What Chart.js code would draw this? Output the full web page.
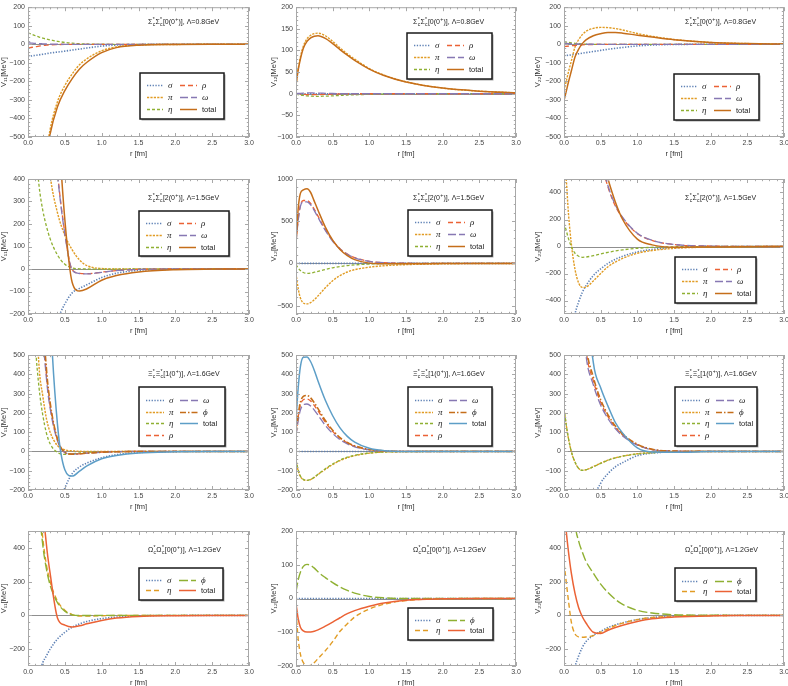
<!DOCTYPE html>
<html>
<head>
<meta charset="utf-8">
<script src="https://cdn.jsdelivr.net/npm/chart.js@4.4.1/dist/chart.umd.min.js"></script>
<style>
  html, body { margin: 0; padding: 0; background: #fff; }
  #wrap { position: relative; width: 788px; height: 686px; overflow: hidden; }
  #wrap canvas { position: absolute; }
</style>
</head>
<body>
<div id="wrap"></div>
<script>
// r grid shared by every curve (fm)
const rGrid = [0, 0.03, 0.06, 0.1, 0.15, 0.2, 0.25, 0.3, 0.4, 0.5, 0.6, 0.7, 0.8, 1.0, 1.2, 1.5, 2.0, 2.5, 3.0];
const xTicks = [0, 0.5, 1.0, 1.5, 2.0, 2.5, 3.0];

// y tick labels per panel
const yTicksA = [-500, -400, -300, -200, -100, 0, 100, 200];
const yTicksB = [-100, -50, 0, 50, 100, 150, 200];
const yTicksC = [-200, -100, 0, 100, 200, 300, 400];
const yTicksD = [-500, 0, 500, 1000];
const yTicksE = [-400, -200, 0, 200, 400];
const yTicksF = [-200, -100, 0, 100, 200, 300, 400, 500];
const yTicksG = [-200, 0, 200, 400];
const yTicksH = [-200, -100, 0, 100, 200];

// panel 1: V11, Sigma, L=0.8
const p1Sigma = [-65, -64, -62, -60, -57, -54, -51, -47, -42, -37, -31, -26, -20, -10, -4, -1, 0, 0, 0];
const p1Pi = [-2400, -2250, -2050, -1700, -1250, -800, -590, -460, -310, -222, -160, -110, -78, -35, -14, -4, -1, 0, 0];
const p1Eta = [62, 57, 52, 46, 39, 33, 28, 24, 16, 10, 6, 3, 1.5, 0.3, 0, 0, 0, 0, 0];
const p1Rho = [-20, -18, -16, -13, -10, -7, -5, -3, -1.5, -0.5, 0, 0, 0, 0, 0, 0, 0, 0, 0];
const p1Omega = [8, 7, 6, 5, 3.5, 2.5, 1.5, 1, 0.3, 0, 0, 0, 0, 0, 0, 0, 0, 0, 0];
const p1Total = [-2415, -2268, -2070, -1722, -1275, -826, -617, -485, -337, -250, -185, -133, -97, -45, -18, -5, -1, 0, 0];

// panel 2: V12
const p2Sigma = [0, 0, 0, 0, 0, 0, 0, 0, 0, 0, 0, 0, 0, 0, 0, 0, 0, 0, 0];
const p2Pi = [21, 58, 85, 110, 127, 135, 139, 140, 134, 121, 106, 92, 80, 58, 43, 27.5, 13, 6, 2];
const p2Eta = [-1, -2, -3, -4, -5, -5.5, -6, -6, -5.5, -5, -4, -3, -2.5, -1.5, -1, -0.3, 0, 0, 0];
const p2Rho = [0, -0.5, -1, -1.5, -2, -2, -2, -2, -1.5, -1, -0.5, 0, 0, 0, 0, 0, 0, 0, 0];
const p2Omega = [0, 0.5, 1, 1.5, 2, 2, 1.5, 1.5, 1, 0.5, 0.3, 0, 0, 0, 0, 0, 0, 0, 0];
const p2Total = [20, 55, 80, 105, 121, 129, 133, 134, 128, 116, 102, 89, 77, 57, 42, 27, 13, 6, 2];

// panel 3: V22
const p3Sigma = [-61, -60, -59, -57, -54, -51, -48, -45, -39, -33, -27, -22, -17, -9, -4, -1, 0, 0, 0];
const p3Pi = [-250, -200, -150, -90, -15, 25, 52, 70, 86, 91, 90, 85, 77, 58, 43, 26, 10, 4, 1];
const p3Eta = [14, 12, 10, 8, 5, 3, 1.5, 0.5, -0.5, -0.5, -0.3, -0.2, 0, 0, 0, 0, 0, 0, 0];
const p3Rho = [-12, -11, -10, -8, -6, -4.5, -3, -2, -1, -0.3, 0, 0, 0, 0, 0, 0, 0, 0, 0];
const p3Omega = [5, 4.5, 4, 3, 2, 1.5, 1, 0.5, 0.2, 0, 0, 0, 0, 0, 0, 0, 0, 0, 0];
const p3Total = [-304, -255, -205, -144, -68, -26, 3.5, 24, 46, 57, 63, 63, 60, 49, 39, 25, 10, 4, 1];

// panel 4: V11, L=1.5
const p4Sigma = [-1400, -1300, -1150, -950, -720, -540, -400, -310, -225, -155, -106, -86, -70, -38, -19, -6, -1, 0, 0];
const p4Pi = [3000, 2600, 2200, 1700, 1200, 850, 600, 420, 250, 150, 85, 40, 15, 2, 0, 0, 0, 0, 0];
const p4Eta = [1200, 1000, 800, 560, 370, 262, 190, 135, 62, 21, 5, 1, 0, -1, -0.5, 0, 0, 0, 0];
const p4Rho = [8200, 7100, 6100, 4600, 3050, 1950, 1230, 820, 430, 160, -4, -19, -21, -14, -7, -2, 0, 0, 0];
const p4Omega = [8000, 7000, 6000, 4500, 3000, 1900, 1200, 800, 420, 155, -5, -20, -22, -15, -7, -2, 0, 0, 0];
const p4Total = [14000, 12000, 10000, 7000, 4500, 3000, 2000, 1300, 700, 220, -60, -98, -88, -50, -29, -13, -3, -0.5, 0];

// panel 5: V12
const p5Sigma = [0, 0, 0, 0, 0, 0, 0, 0, 0, 0, 0, 0, 0, 0, 0, 0, 0, 0, 0];
const p5Pi = [-120, -300, -410, -470, -480, -465, -430, -385, -290, -205, -145, -102, -75, -45, -28, -15, -6, -2, -1];
const p5Eta = [-15, -55, -85, -108, -118, -115, -105, -95, -72, -52, -37, -26, -18, -8, -3, -1, 0, 0, 0];
const p5Rho = [250, 520, 690, 745, 745, 710, 640, 560, 400, 270, 175, 110, 68, 25, 8, 2, 0, 0, 0];
const p5Omega = [245, 510, 675, 728, 730, 695, 625, 545, 390, 262, 170, 107, 66, 24, 8, 2, 0, 0, 0];
const p5Total = [240, 650, 830, 870, 885, 840, 735, 630, 430, 275, 165, 92, 45, 3, -5, -5, -2, -1, 0];

// panel 6: V22
const p6Sigma = [-1000, -900, -800, -660, -500, -410, -340, -290, -215, -165, -125, -95, -72, -40, -22, -9, -2, 0, 0];
const p6Pi = [650, 500, 250, 20, -170, -270, -303, -300, -255, -200, -150, -115, -88, -50, -30, -14, -4, -1, 0];
const p6Eta = [175, 120, 60, 0, -50, -72, -80, -78, -68, -55, -43, -33, -25, -13, -6, -2, 0, 0, 0];
const p6Rho = [30000, 20000, 15000, 10000, 6000, 4000, 2600, 1800, 1000, 650, 440, 300, 210, 95, 45, 14, 3, 0.5, 0];
const p6Omega = [31000, 21000, 15500, 10300, 6200, 4100, 2680, 1850, 1030, 665, 450, 308, 215, 98, 46, 15, 3, 0.5, 0];
const p6Total = [35000, 24000, 17000, 11000, 6600, 4400, 2900, 2000, 1100, 700, 500, 330, 200, 55, 12, -6, -3, -1, 0];

// panel 7: V11, Xi, L=1.6
const p7Sigma = [-3000, -2700, -2400, -1900, -1400, -1000, -720, -500, -300, -190, -115, -80, -60, -33, -17, -6, -1, 0, 0];
const p7Pi = [2500, 1900, 1400, 850, 440, 290, 170, 100, 30, 8, 3, 1, 0, 0, 0, 0, 0, 0, 0];
const p7Eta = [1600, 1200, 900, 560, 330, 190, 95, 40, -5, -15, -12, -8, -5, -2, -1, 0, 0, 0, 0];
const p7Rho = [9000, 7000, 5000, 2800, 1500, 700, 400, 240, 60, -5, -14, -12, -9, -4, -1.5, 0, 0, 0, 0];
const p7Omega = [8500, 6600, 4700, 2600, 1400, 660, 380, 225, 55, -6, -14, -12, -9, -4, -1.5, 0, 0, 0, 0];
const p7Phi = [9500, 7400, 5300, 3000, 1600, 760, 430, 255, 65, -4, -14, -12, -9, -4, -1.5, 0, 0, 0, 0];
const p7Total = [20000, 15000, 11000, 7000, 4000, 2400, 1400, 750, 140, -95, -128, -102, -75, -38, -21, -8, -2, 0, 0];

// panel 8: V12
const p8Sigma = [0, 0, 0, 0, 0, 0, 0, 0, 0, 0, 0, 0, 0, 0, 0, 0, 0, 0, 0];
const p8Pi = [-50, -100, -130, -146, -150, -146, -135, -120, -93, -68, -48, -33, -22, -9, -3, -1, 0, 0, 0];
const p8Eta = [-45, -95, -128, -145, -150, -145, -133, -118, -90, -65, -45, -30, -20, -8, -3, -1, 0, 0, 0];
const p8Rho = [90, 180, 240, 268, 272, 262, 238, 210, 152, 104, 68, 44, 27, 9, 3, 0, 0, 0, 0];
const p8Omega = [80, 160, 215, 242, 246, 236, 214, 188, 135, 93, 61, 39, 24, 8, 2, 0, 0, 0, 0];
const p8Phi = [95, 190, 255, 285, 290, 278, 252, 222, 160, 110, 72, 46, 29, 10, 3, 0, 0, 0, 0];
const p8Total = [165, 330, 440, 488, 490, 465, 420, 365, 265, 185, 122, 78, 48, 16, 4, 0, 0, 0, 0];

// panel 9: V22
const p9Sigma = [-3000, -2700, -2300, -1800, -1300, -950, -680, -500, -260, -165, -115, -80, -58, -22, -9, -2, 0, 0, 0];
const p9Pi = [220, 138, 68, -2, -56, -88, -98, -95, -79, -61, -45, -33, -24, -12, -6, -2, 0, 0, 0];
const p9Eta = [225, 140, 70, 0, -55, -88, -98, -95, -80, -62, -46, -34, -25, -13, -7, -2, 0, 0, 0];
const p9Rho = [10000, 7000, 5000, 3000, 1800, 1150, 780, 530, 365, 255, 180, 125, 85, 35, 10, 2, 0, 0, 0];
const p9Omega = [9500, 6600, 4700, 2850, 1700, 1090, 740, 500, 345, 240, 170, 118, 80, 33, 9, 2, 0, 0, 0];
const p9Phi = [10500, 7400, 5300, 3150, 1900, 1210, 820, 560, 385, 268, 190, 132, 90, 37, 11, 2, 0, 0, 0];
const p9Total = [30000, 20000, 14000, 8000, 4500, 2700, 1600, 900, 460, 330, 235, 150, 95, 18, -3, -4, -1, 0, 0];

// panel 10: V11, Omega, L=1.2
const p10Sigma = [-650, -610, -560, -470, -350, -280, -240, -200, -140, -100, -70, -50, -36, -19, -10, -3, -0.5, 0, 0];
const p10Eta = [3000, 2400, 1800, 1200, 720, 460, 300, 200, 85, 30, 5, -4, -4, -2, -1, 0, 0, 0, 0];
const p10Phi = [2800, 2200, 1650, 1100, 660, 420, 275, 180, 75, 25, 3, -1, -1, 0, 0, 0, 0, 0, 0];
const p10Total = [6000, 4800, 3600, 2400, 1400, 700, 420, 250, -15, -58, -69, -62, -50, -30, -16, -6, -1.5, 0, 0];

// panel 11: V12
const p11Sigma = [0, 0, 0, 0, 0, 0, 0, 0, 0, 0, 0, 0, 0, 0, 0, 0, 0, 0, 0];
const p11Eta = [-40, -120, -165, -190, -199, -198, -190, -178, -155, -128, -97, -75, -55, -31, -17, -6, -1, 0, 0];
const p11Phi = [20, 55, 78, 95, 101, 98, 90, 79, 62, 47, 34, 24, 16, 6, 2, 0, 0, 0, 0];
const p11Total = [-15, -60, -85, -96, -99, -99, -97, -93, -82, -70, -57, -45, -36, -23, -13, -5, -1, 0, 0];

// panel 12: V22
const p12Sigma = [-600, -560, -500, -420, -305, -240, -190, -155, -118, -95, -72, -56, -44, -25, -13, -4, -0.5, 0, 0];
const p12Eta = [310, 200, 90, -40, -110, -128, -130, -128, -120, -100, -80, -60, -46, -25, -13, -4, -1, 0, 0];
const p12Phi = [2500, 2000, 1500, 1000, 560, 440, 375, 320, 250, 185, 135, 95, 65, 30, 14, 4, 1, 0, 0];
const p12Total = [640, 500, 380, 250, 130, 45, -8, -45, -100, -108, -88, -72, -58, -36, -20, -10, -3, -1, 0];

const FONT = "'Liberation Sans', Arial, sans-serif";

const C = {
  blue: 'rgb(94,129,181)',
  orange: 'rgb(225,156,36)',
  green: 'rgb(143,176,50)',
  red: 'rgb(235,98,53)',
  purple: 'rgb(135,120,179)',
  brown: 'rgb(197,110,26)',
  sky: 'rgb(93,158,199)'
};

const ST = {
  sigma: { label: 'σ', color: C.blue, dash: [1.3, 1.5], w: 1.6 },
  pi: { label: 'π', color: C.orange, dash: [2.2, 1.2], w: 1.4 },
  eta: { label: 'η', color: C.green, dash: [3, 2], w: 1.3 },
  rho: { label: 'ρ', color: C.red, dash: [5, 3], w: 1.3 },
  omega: { label: 'ω', color: C.purple, dash: [8, 3], w: 1.3 },
  phi: { label: 'ϕ', color: C.brown, dash: [6, 2, 1.5, 2], w: 1.6 },
  totalA: { label: 'total', color: C.brown, dash: [], w: 1.5 },
  totalB: { label: 'total', color: C.sky, dash: [], w: 1.5 },
  eta4: { label: 'η', color: C.orange, dash: [5, 3], w: 1.4 },
  phi4: { label: 'ϕ', color: C.green, dash: [9, 3], w: 1.4 },
  totalC: { label: 'total', color: C.red, dash: [], w: 1.5 }
};

// plot frame positions (page pixels)
const colX = [0, 263, 526];
const plotL = [28, 296, 564];
const plotR = [249, 516, 784];
const rowY = [0, 170, 340, 510];
const plotT = [3, 179, 355, 531];
const plotB = [137, 314, 490, 666];
const yTitlePad = [0, 7.5, 8.5];

const title = (sym, iso, lam) => [sym, { sup: '*', sub: 'c' }, sym, { sup: '*', sub: 'c' }, '[' + iso + '(0', { sup: '+' }, ')], Λ=' + lam + 'GeV'];

const panels = [
  { y: [-500, 200], ticks: yTicksA, v: 'V₁₁[MeV]', note: title('Σ', '0', '0.8'), lg: [140, 73, 84, 46],
    series: [[ST.sigma, p1Sigma], [ST.pi, p1Pi], [ST.eta, p1Eta], [ST.rho, p1Rho], [ST.omega, p1Omega], [ST.totalA, p1Total]] },
  { y: [-100, 200], ticks: yTicksB, v: 'V₁₂[MeV]', note: title('Σ', '0', '0.8'), lg: [407, 33, 85, 46],
    series: [[ST.sigma, p2Sigma], [ST.pi, p2Pi], [ST.eta, p2Eta], [ST.rho, p2Rho], [ST.omega, p2Omega], [ST.totalA, p2Total]] },
  { y: [-500, 200], ticks: yTicksA, v: 'V₂₂[MeV]', note: title('Σ', '0', '0.8'), lg: [674, 74, 85, 46],
    series: [[ST.sigma, p3Sigma], [ST.pi, p3Pi], [ST.eta, p3Eta], [ST.rho, p3Rho], [ST.omega, p3Omega], [ST.totalA, p3Total]] },
  { y: [-200, 400], ticks: yTicksC, v: 'V₁₁[MeV]', note: title('Σ', '2', '1.5'), lg: [139, 211, 90, 45],
    series: [[ST.sigma, p4Sigma], [ST.pi, p4Pi], [ST.eta, p4Eta], [ST.rho, p4Rho], [ST.omega, p4Omega], [ST.totalA, p4Total]] },
  { y: [-600, 1000], ticks: yTicksD, v: 'V₁₂[MeV]', note: title('Σ', '2', '1.5'), lg: [408, 210, 84, 46],
    series: [[ST.sigma, p5Sigma], [ST.pi, p5Pi], [ST.eta, p5Eta], [ST.rho, p5Rho], [ST.omega, p5Omega], [ST.totalA, p5Total]] },
  { y: [-500, 500], ticks: yTicksE, v: 'V₂₂[MeV]', note: title('Σ', '2', '1.5'), lg: [675, 257, 81, 46],
    series: [[ST.sigma, p6Sigma], [ST.pi, p6Pi], [ST.eta, p6Eta], [ST.rho, p6Rho], [ST.omega, p6Omega], [ST.totalA, p6Total]] },
  { y: [-200, 500], ticks: yTicksF, v: 'V₁₁[MeV]', note: title('Ξ', '1', '1.6'), lg: [139, 387, 86, 59],
    series: [[ST.sigma, p7Sigma], [ST.pi, p7Pi], [ST.eta, p7Eta], [ST.rho, p7Rho], [ST.omega, p7Omega], [ST.phi, p7Phi], [ST.totalB, p7Total]] },
  { y: [-200, 500], ticks: yTicksF, v: 'V₁₂[MeV]', note: title('Ξ', '1', '1.6'), lg: [408, 387, 84, 59],
    series: [[ST.sigma, p8Sigma], [ST.pi, p8Pi], [ST.eta, p8Eta], [ST.rho, p8Rho], [ST.omega, p8Omega], [ST.phi, p8Phi], [ST.totalB, p8Total]] },
  { y: [-200, 500], ticks: yTicksF, v: 'V₂₂[MeV]', note: title('Ξ', '1', '1.6'), lg: [675, 387, 82, 59],
    series: [[ST.sigma, p9Sigma], [ST.pi, p9Pi], [ST.eta, p9Eta], [ST.rho, p9Rho], [ST.omega, p9Omega], [ST.phi, p9Phi], [ST.totalB, p9Total]] },
  { y: [-300, 500], ticks: yTicksG, v: 'V₁₁[MeV]', note: title('Ω', '0', '1.2'), lg: [139, 568, 84, 32],
    series: [[ST.sigma, p10Sigma], [ST.eta4, p10Eta], [ST.phi4, p10Phi], [ST.totalC, p10Total]] },
  { y: [-200, 200], ticks: yTicksH, v: 'V₁₂[MeV]', note: title('Ω', '0', '1.2'), lg: [408, 608, 85, 32],
    series: [[ST.sigma, p11Sigma], [ST.eta4, p11Eta], [ST.phi4, p11Phi], [ST.totalC, p11Total]] },
  { y: [-300, 500], ticks: yTicksG, v: 'V₂₂[MeV]', note: title('Ω', '0', '1.2'), lg: [675, 568, 81, 33],
    series: [[ST.sigma, p12Sigma], [ST.eta4, p12Eta], [ST.phi4, p12Phi], [ST.totalC, p12Total]] }
];

// minor tick values between (and beyond) the major ticks
function minorTicks(scale) {
  const major = scale.ticks.map(t => t.value);
  const step = (major[1] - major[0]) / 5;
  const out = [];
  for (let v = major[0] - step; v >= scale.min - 1e-9; v -= step) out.push(v);
  major.forEach((m, i) => {
    const next = i < major.length - 1 ? major[i + 1] : scale.max;
    for (let v = m + step; v < next - 1e-9; v += step) out.push(v);
  });
  return { major, minor: out };
}

const framePlugin = {
  id: 'mmaFrame',
  beforeDatasetsDraw(chart) {
    const { ctx, chartArea: a, scales: { y } } = chart;
    const y0 = Math.round(y.getPixelForValue(0)) + 0.5;
    ctx.save();
    ctx.strokeStyle = '#8f8f8f';
    ctx.lineWidth = 1;
    ctx.beginPath();
    ctx.moveTo(a.left, y0);
    ctx.lineTo(a.right, y0);
    ctx.stroke();
    ctx.restore();
  },
  afterDatasetsDraw(chart, args, opts) {
    const { ctx, chartArea: a, scales: { x, y } } = chart;
    ctx.save();
    ctx.strokeStyle = '#a8a8a8';
    ctx.lineWidth = 1;
    ctx.strokeRect(a.left + 0.5, a.top + 0.5, a.right - a.left - 1, a.bottom - a.top - 1);

    const xt = minorTicks(x);
    const yt = minorTicks(y);
    const line = (x1, y1, x2, y2) => { ctx.moveTo(x1, y1); ctx.lineTo(x2, y2); };
    ctx.beginPath();
    [[xt.major, 4], [xt.minor, 2.2]].forEach(([vals, len]) => {
      vals.forEach(v => {
        const px = Math.round(x.getPixelForValue(v)) + 0.5;
        line(px, a.bottom, px, a.bottom - len);
        line(px, a.top, px, a.top + len);
      });
    });
    [[yt.major, 4], [yt.minor, 2.2]].forEach(([vals, len]) => {
      vals.forEach(v => {
        const py = Math.round(y.getPixelForValue(v)) + 0.5;
        line(a.left, py, a.left + len, py);
        line(a.right, py, a.right - len, py);
      });
    });
    ctx.stroke();

    // panel caption
    if (opts.note) {
      let tx = opts.noteX;
      const ty = opts.noteY;
      const fs = 7;
      ctx.fillStyle = '#222';
      ctx.textBaseline = 'middle';
      ctx.textAlign = 'left';
      opts.note.forEach(p => {
        if (typeof p === 'string') {
          ctx.font = fs + 'px ' + FONT;
          ctx.fillText(p, tx, ty);
          tx += ctx.measureText(p).width;
        } else {
          ctx.font = (fs * 0.72) + 'px ' + FONT;
          let w = 0;
          if (p.sup) { ctx.fillText(p.sup, tx + 0.3, ty - 2.6); w = Math.max(w, ctx.measureText(p.sup).width); }
          if (p.sub) { ctx.fillText(p.sub, tx + 0.3, ty + 2.4); w = Math.max(w, ctx.measureText(p.sub).width); }
          tx += w + 0.6;
        }
      });
    }

    // boxed legend
    if (opts.legend) {
      const [lx, ly, lw, lh] = opts.legend;
      const ds = chart.data.datasets;
      const rows = Math.ceil(ds.length / 2);
      const gap = rows === 2 ? 10 : (rows === 4 ? 11.7 : 12);
      const first = ly + (lh - (rows - 1) * gap) / 2 + 1;
      const s1 = rows === 4 ? [7, 25] : [7, 23];
      const s2 = rows === 4 ? [41, 59] : [40, 57];
      ctx.fillStyle = 'rgba(0,0,0,0.35)';
      ctx.fillRect(lx + 1.5, ly + 1.5, lw, lh);
      ctx.fillStyle = '#fff';
      ctx.fillRect(lx, ly, lw, lh);
      ctx.strokeStyle = '#1a1a1a';
      ctx.lineWidth = 1.5;
      ctx.strokeRect(lx, ly, lw, lh);
      ds.forEach((d, i) => {
        const col = Math.floor(i / rows);
        const row = i % rows;
        const cy = Math.round(first + row * gap) + 0.5;
        const [a0, a1] = col ? s2 : s1;
        ctx.strokeStyle = d.borderColor;
        ctx.lineWidth = d.borderWidth;
        ctx.setLineDash(d.borderDash);
        ctx.beginPath();
        ctx.moveTo(lx + a0, cy);
        ctx.lineTo(lx + a1, cy);
        ctx.stroke();
        ctx.setLineDash([]);
        ctx.fillStyle = '#222';
        ctx.textBaseline = 'middle';
        ctx.font = d.label === 'total' ? '7.5px ' + FONT : "italic 9px 'Liberation Serif', serif";
        ctx.fillText(d.label, lx + a1 + 5, cy);
      });
    }
    ctx.restore();
  }
};

const wrap = document.getElementById('wrap');

panels.forEach((p, idx) => {
  const row = Math.floor(idx / 3);
  const col = idx % 3;
  const left = colX[col];
  const top = rowY[row];
  const w = plotR[col] + 10 - left;
  const h = plotB[row] + 24 - top;

  const canvas = document.createElement('canvas');
  canvas.width = w;
  canvas.height = h;
  canvas.style.left = left + 'px';
  canvas.style.top = top + 'px';
  canvas.style.width = w + 'px';
  canvas.style.height = h + 'px';
  wrap.appendChild(canvas);

  const n = p.series.length;
  const datasets = p.series.map(([st, vals], i) => ({
    label: st.label,
    data: vals.map((v, k) => ({ x: rGrid[k], y: v })),
    borderColor: st.color,
    borderWidth: st.w,
    borderDash: st.dash,
    pointRadius: 0,
    fill: false,
    cubicInterpolationMode: 'monotone',
    order: n - i
  }));

  new Chart(canvas, {
    type: 'line',
    data: { datasets },
    options: {
      responsive: false,
      animation: false,
      devicePixelRatio: 1,
      layout: {
        autoPadding: false,
        padding: { left: 0, top: plotT[row] - top, right: w - (plotR[col] - left), bottom: 0 }
      },
      scales: {
        x: {
          type: 'linear',
          min: 0,
          max: 3,
          afterBuildTicks: (s) => { s.ticks = xTicks.map(v => ({ value: v })); },
          afterFit: (s) => { s.height = 24; },
          grid: { display: false, drawTicks: false },
          border: { display: false },
          ticks: {
            padding: 2,
            color: '#444',
            font: { family: FONT, size: 7 },
            maxRotation: 0,
            autoSkip: false,
            callback: (v) => Number(v).toFixed(1)
          },
          title: {
            display: true,
            text: 'r [fm]',
            color: '#333',
            font: { family: FONT, size: 7.5, lineHeight: 1.2 },
            padding: { top: 0, bottom: 3 }
          }
        },
        y: {
          type: 'linear',
          min: p.y[0],
          max: p.y[1],
          afterBuildTicks: (s) => { s.ticks = p.ticks.map(v => ({ value: v })); },
          afterFit: (s) => { s.width = plotL[col] - left; },
          grid: { display: false, drawTicks: false },
          border: { display: false },
          ticks: {
            padding: 3,
            color: '#444',
            font: { family: FONT, size: 7 },
            autoSkip: false,
            callback: (v) => (v < 0 ? '−' : '') + Math.abs(v)
          },
          title: {
            display: true,
            text: p.v,
            color: '#333',
            font: { family: FONT, size: 7.5, lineHeight: 1 },
            padding: { top: yTitlePad[col], bottom: 0 }
          }
        }
      },
      plugins: {
        legend: { display: false },
        tooltip: { enabled: false },
        mmaFrame: {
          note: p.note,
          noteX: [148, 413, 685][col] - left,
          noteY: plotT[row] + 19 - top,
          legend: [p.lg[0] - left, p.lg[1] - top, p.lg[2], p.lg[3]]
        }
      }
    },
    plugins: [framePlugin]
  });
});
</script>
</body>
</html>
